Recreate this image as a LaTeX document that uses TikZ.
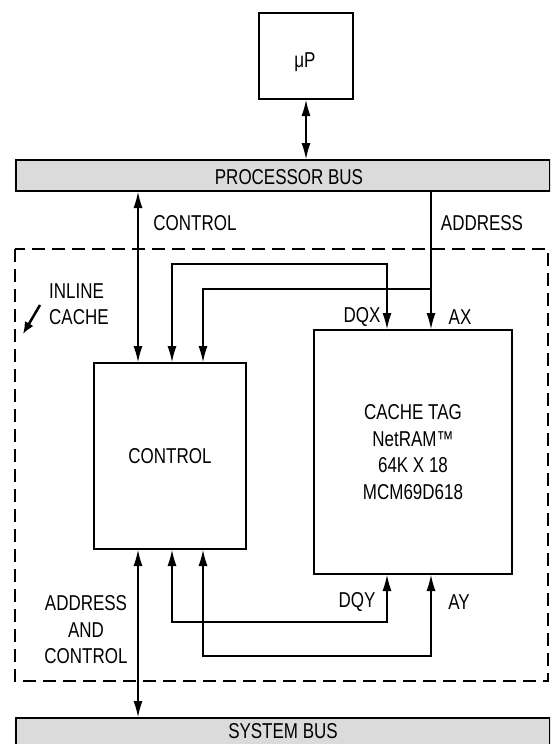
\documentclass[tikz,border=0pt]{standalone}
\usepackage{fontspec}
\setmainfont[FakeStretch=0.79]{Liberation Sans}
\usetikzlibrary{arrows.meta,positioning,calc}

\tikzset{
    block/.style={draw,line width=2pt,anchor=north west,inner sep=0pt},
    busbar/.style={draw,line width=2pt,fill=black!14,anchor=north west,inner sep=0pt},
    wire/.style={line width=1.1pt},
    lbl/.style={inner sep=0pt}
}

\begin{document}
\begin{tikzpicture}[x=1pt,y=-1pt,>={Latex[length=16pt,width=9pt]},
    font=\fontsize{21.5}{26.5}\selectfont]
    \useasboundingbox (0,0) rectangle (550,744);
    \clip (0,0) rectangle (550,744);
    % boxes and buses
    \node [block,minimum width=94pt,minimum height=86pt] (up) at (258,12) {};
    \node [lbl] at (305,62) {μP};
    \node [busbar,minimum width=534pt,minimum height=31pt] (pbus) at (15,159) {};
    \node [lbl] at ($(pbus.center)+(6,2)$) {PROCESSOR BUS};
    \node [busbar,minimum width=534pt,minimum height=50pt] (sbus) at (15,717) {};
    \node [lbl] at (283,731) {SYSTEM BUS};
    \draw [line width=2pt,dash pattern=on 13pt off 7pt] (15,249) rectangle (548,681);
    \node [block,minimum width=152pt,minimum height=186pt] (ctrl) at (93,362) {CONTROL};
    \node [block,minimum width=198pt,minimum height=244pt,align=center] (tag) at (313,329)
        {CACHE TAG\\NetRAM™\\64K X 18\\MCM69D618};
    % columns of the connectors
    \coordinate (xa) at (138,0);
    \coordinate (xb) at (172,0);
    \coordinate (xc) at (203,0);
    \coordinate (xd) at (387,0);
    \coordinate (xe) at (431,0);
    % connectors
    \draw [wire,<->] (up.south) -- (pbus.north -| up.south);
    \draw [wire,<->] (pbus.south -| xa) -- (ctrl.north -| xa);
    \draw [wire,<->] (ctrl.south -| xa) -- (sbus.north -| xa);
    \draw [wire,->] (pbus.south -| xe) -- (tag.north -| xe);
    \draw [wire,<->] (ctrl.north -| xb) |- (xd |- 0,264) -- (tag.north -| xd);
    \draw [wire,->] (xe |- 0,289) -| (ctrl.north -| xc);
    \draw [wire,<->] (ctrl.south -| xb) |- (xd |- 0,622) -- (tag.south -| xd);
    \draw [wire,<->] (ctrl.south -| xc) |- (xe |- 0,656) -- (tag.south -| xe);
    % labels
    \node [lbl] at (195,223) {CONTROL};
    \node [lbl] at (482,223) {ADDRESS};
    \node [lbl] at (362,317) {DQX};
    \node [lbl] at (460,317) {AX};
    \node [lbl] at (357,602) {DQY};
    \node [lbl] at (459,602) {AY};
    \node [lbl,align=center] at (86,630) {ADDRESS\\AND\\CONTROL};
    \node [lbl,align=left,anchor=west] (inl) at (49,304) {INLINE\\CACHE};
    \draw [line width=2.5pt,->,>={Latex[length=12pt,width=10pt]}] (40,305) -- (23,334);
\end{tikzpicture}
\end{document}
